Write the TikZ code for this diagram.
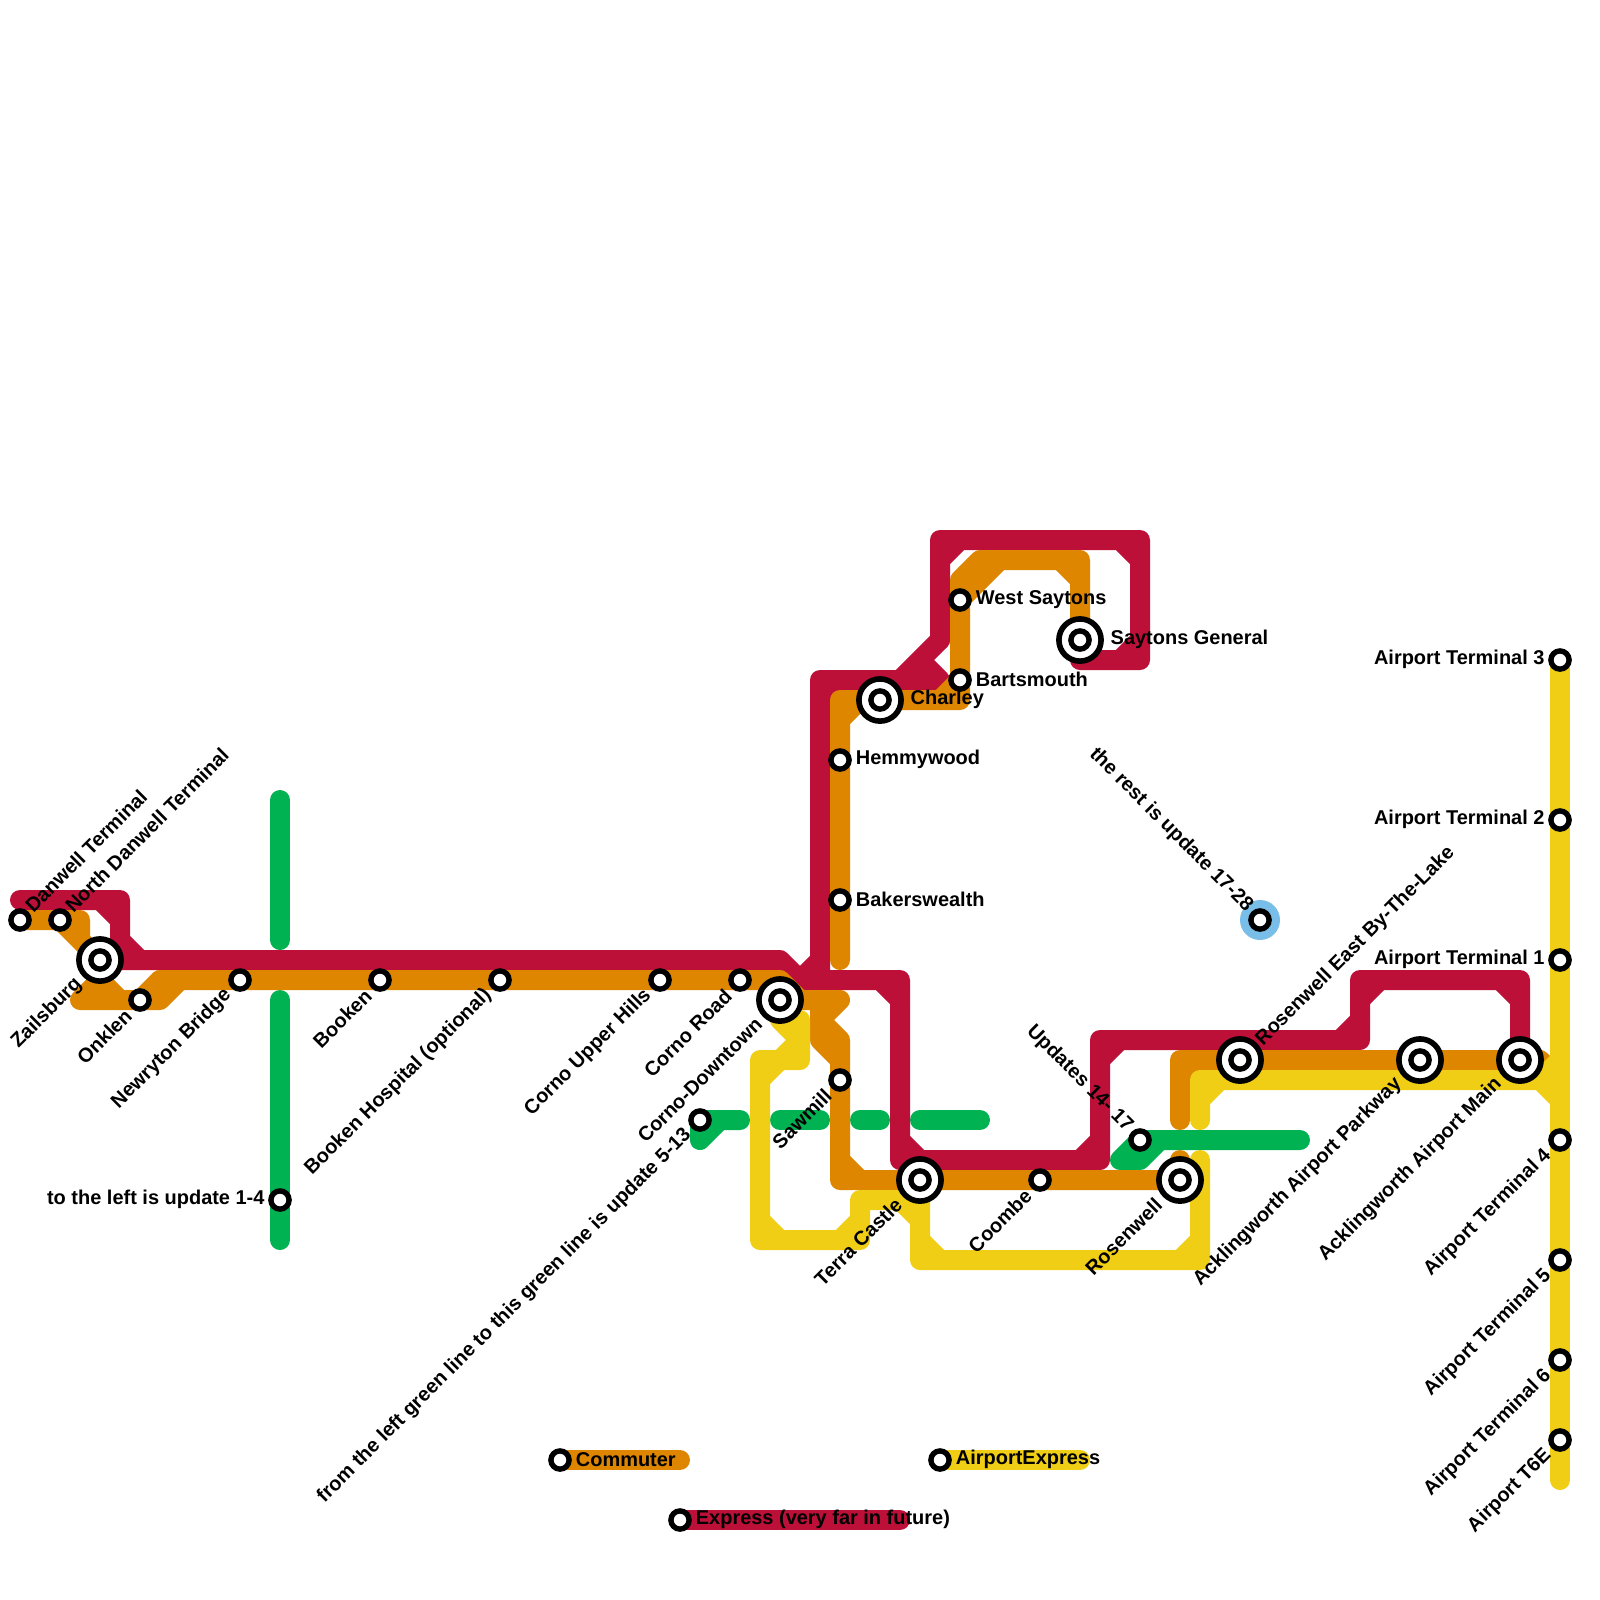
\documentclass[tikz,border=0pt]{standalone}
\usepackage{fontspec}
\setmainfont{Liberation Sans}
\usetikzlibrary{calc,backgrounds}
\definecolor{expressred}{HTML}{BD1038}
\definecolor{commuterorange}{HTML}{DF8600}
\definecolor{airportyellow}{HTML}{F0CE15}
\definecolor{localgreen}{HTML}{00B251}
\definecolor{futureblue}{HTML}{79BDE9}
\tikzset{
  metro/.style={line width=2mm,line cap=round,line join=round},
  express/.style={metro,expressred},
  commuter/.style={metro,commuterorange},
  airport/.style={metro,airportyellow},
  local/.style={metro,localgreen},
  stop/.style={circle,draw=black,fill=white,line width=.54mm,minimum size=1.82mm,inner sep=0pt},
  hub/.style={circle,draw=black,fill=white,line width=.56mm,minimum size=4.22mm,inner sep=0pt},
  txt/.style={font=\fontsize{5.68}{6.5}\selectfont\bfseries,inner sep=0pt,text=black}
}
\begin{document}
\begin{tikzpicture}[x=.2cm,y=-.2cm]
\useasboundingbox (0,0) rectangle (80,80);
% stops
\foreach \n/\x/\y in {danwell/1/46,northdanwell/3/46,onklen/7/50,newryton/12/49,booken/19/49,hospital/25/49,upperhills/33/49,cornoroad/37/49,sawmill/42/54,firstgreen/35/56,leftgreen/14/60,coombe/52/59,updates/57/57,rest/63/46,hemmywood/42/38,bakerswealth/42/45,westsaytons/48/30,bartsmouth/48/34,term3/78/33,term2/78/41,term1/78/48,term4/78/57,term5/78/63,term6/78/68,term6e/78/72,legcommuter/28/73,legairport/47/73,legexpress/34/76}
  {\node[stop] (\n) at (\x,\y) {};}
\foreach \n/\x/\y in {zailsburg/5/48,corno/39/50,terra/46/59,rosenwell/59/59,rosenwelleast/62/53,parkway/71/53,airportmain/76/53,charley/44/35,saytons/54/32}
  {\node[hub] (\n) at (\x,\y) {}; \node[stop] (\n in) at (\x,\y) {};}
\begin{scope}[on background layer]
\fill[futureblue] (rest) circle (1);
% green pieces
\draw[local] (14,40) -- (14,47) (14,50) -- (leftgreen.center) -- (14,62);
\draw[local] (firstgreen.center) -- (37,56) (firstgreen.center) -- (35,57) -- (36,56);
\draw[local] (39,56) -- (41,56) (43,56) -- (44,56) (46,56) -- (49,56);
\draw[local] (56,58) -- (updates.center) -- (65,57) (56,58) -- (57,58) -- (58,57) (57,58) -- (updates.center);
% express
\draw[express] (1,45) -- (6,45) -- (6,48) -- (zailsburg.center) (5,45) -- (6,46) (6,47) -- (7,48);
\draw[express] (6,48) -- (39,48) -- (40,49) -- (45,49) -- (45,58) -- (55,58) -- (55,52) -- (68,52) -- (68,49) -- (76,49) -- (airportmain.center);
\draw[express] (44,49) -- (45,50) (45,57) -- (46,58) (54,58) -- (55,57) (55,53) -- (56,52) (67,52) -- (68,51) (68,50) -- (69,49) (75,49) -- (76,50);
\draw[express] (40,49) -- (41,48) (41,49) -- (41,34) -- (47,34) (41,35) -- (42,34) (45,34) -- (47,32) (46,33) -- (47,34);
\draw[express] (47,32) -- (47,27) -- (57,27) -- (57,33) -- (54,33) -- (saytons.center) (47,28) -- (48,27) (56,27) -- (57,28) (56,33) -- (57,32);
\draw[express] (legexpress.center) -- (45,76);
% commuter
\draw[commuter] (danwell.center) -- (4,46) -- (4,47) -- (zailsburg.center) -- (5,49) (northdanwell.center) -- (zailsburg.center);
\draw[commuter] (4,50) -- (5,49) -- (6,50) (4,50) -- (onklen.center) -- (8,50) -- (9,49) (onklen.center) -- (8,49);
\draw[commuter] (8,49) -- (39,49) -- (40,50) -- (42,50) -- (41,51) -- (42,52) -- (42,59) -- (rosenwell.center) -- (59,58);
\draw[commuter] (41,50) -- (41,52) -- (42,53) (42,58) -- (43,59);
\draw[commuter] (42,48) -- (42,35) -- (48,35) -- (48,29) -- (49,28) -- (54,28) -- (saytons.center);
\draw[commuter] (42,36) -- (43,35) (47,35) -- (48,34) (48,30) -- (50,28) (53,28) -- (54,29);
\draw[commuter] (59,56) -- (59,53) -- (77,53) -- (78,54) (59,54) -- (60,53);
\draw[commuter] (legcommuter.center) -- (34,73);
% airport express
\draw[airport] (corno.center) -- (39,51) -- (40,52) (39,51) -- (40,51) -- (40,53) -- (38,53) -- (38,62) -- (43,62) -- (43,60) -- (46,60);
\draw[airport] (39,53) -- (40,52) (38,54) -- (39,53) (38,61) -- (39,62) (42,62) -- (43,61) (45,60) -- (46,61);
\draw[airport] (terra.center) -- (46,63) -- (60,63) -- (60,58) (46,62) -- (47,63) (59,63) -- (60,62);
\draw[airport] (60,56) -- (60,54) -- (77,54) -- (78,55) (60,55) -- (61,54) (77,54) -- (78,53);
\draw[airport] (term3.center) -- (78,74);
\draw[airport] (legairport.center) -- (54,73);
\end{scope}
% labels
\foreach \n/\t in {onklen/Onklen,newryton/Newryton Bridge,booken/Booken,hospital/Booken Hospital (optional),upperhills/Corno Upper Hills,cornoroad/Corno Road,sawmill/Sawmill,firstgreen/from the left green line to this green line is update 5-13,coombe/Coombe,term4/Airport Terminal 4,term5/Airport Terminal 5,term6/Airport Terminal 6,term6e/Airport T6E}
  {\node[txt,rotate=45,anchor=east] (\n lbl) at ($(\n)+(-.57,.6)$) {\t};}
\foreach \n/\t in {zailsburg/Zailsburg,corno/Corno-Downtown,terra/Terra Castle,rosenwell/Rosenwell,parkway/Acklingworth Airport Parkway,airportmain/Acklingworth Airport Main}
  {\node[txt,rotate=45,anchor=east] (\n lbl) at ($(\n)+(-1.05,1.05)$) {\t};}
\foreach \n/\t in {danwell/Danwell Terminal,northdanwell/North Danwell Terminal}
  {\node[txt,rotate=45,anchor=west] (\n lbl) at ($(\n)+(.4,-.55)$) {\t};}
\node[txt,rotate=45,anchor=west] (rosenwelleast lbl) at ($(rosenwelleast)+(.95,-.85)$) {Rosenwell East By-The-Lake};
\foreach \n/\t in {rest/the rest is update 17-28,updates/Updates 14- 17}
  {\node[txt,rotate=-45,anchor=east] (\n lbl) at ($(\n)+(-.5,-.55)$) {\t};}
\foreach \n/\t in {hemmywood/Hemmywood,bakerswealth/Bakerswealth,westsaytons/West Saytons,bartsmouth/Bartsmouth,legcommuter/Commuter,legairport/AirportExpress,legexpress/Express (very far in future)}
  {\node[txt,anchor=west] (\n lbl) at ($(\n)+(.76,-.01)$) {\t};}
\foreach \n/\t in {charley/Charley,saytons/Saytons General}
  {\node[txt,anchor=west] (\n lbl) at ($(\n)+(1.5,-.01)$) {\t};}
\foreach \n/\t in {term3/Airport Terminal 3,term2/Airport Terminal 2,term1/Airport Terminal 1,leftgreen/to the left is update 1-4}
  {\node[txt,anchor=east] (\n lbl) at ($(\n)+(-.74,-.01)$) {\t};}
\end{tikzpicture}
\end{document}
